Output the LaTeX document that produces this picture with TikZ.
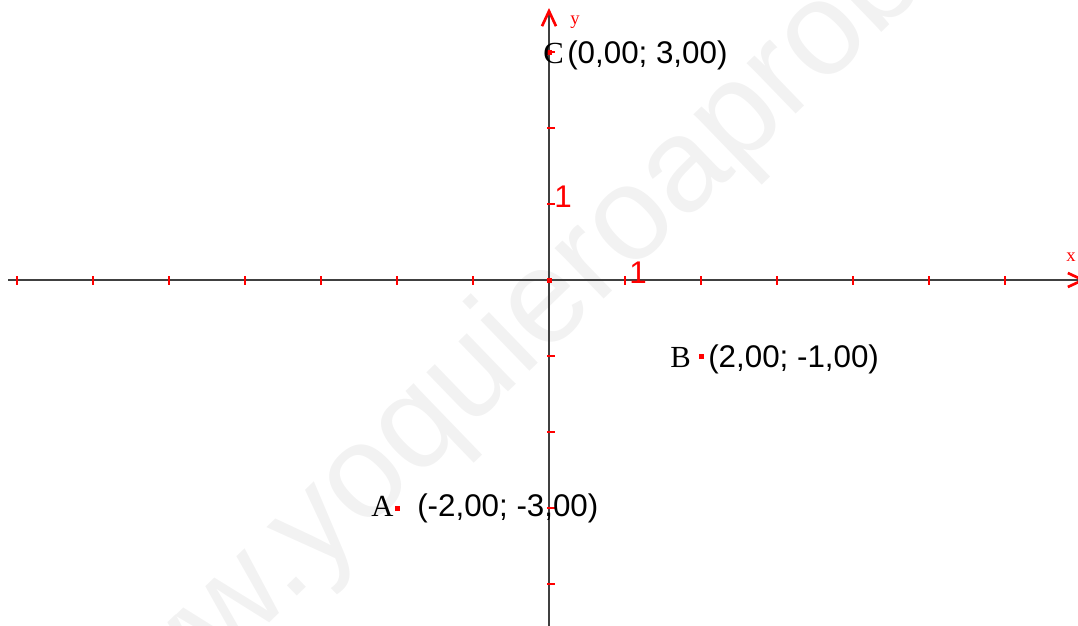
\documentclass[tikz,border=0pt]{standalone}
\usepackage{fontspec}
\setmainfont{Liberation Serif}
\setsansfont{Liberation Sans}
\usetikzlibrary{arrows.meta}
\definecolor{axisgray}{HTML}{404040}
\definecolor{wmgray}{HTML}{F2F2F2}
\begin{document}
\begin{tikzpicture}[x=0.75pt,y=0.75pt,
  axis/.style={draw=axisgray,line width=1.6pt},
  tickmark/.style={draw=red,line width=1.6pt},
  pt/.style={fill=red,minimum size=3.75pt,inner sep=0pt,outer sep=0pt},
  coordlbl/.style={font=\sffamily\fontsize{23.5}{23.5}\selectfont,inner sep=0pt,anchor=base west},
  ptname/.style={font=\rmfamily\fontsize{23}{23}\selectfont,inner sep=0pt,anchor=base west},
  unitlbl/.style={coordlbl,text=red},
  axlbl/.style={font=\rmfamily\fontsize{14}{14}\selectfont,text=red,inner sep=0pt},
  wm/.style={font=\sffamily\fontsize{100}{100}\selectfont,text=wmgray,inner sep=0pt,anchor=base west,rotate=44}]
\useasboundingbox (0,0) rectangle (1078,-625);
% watermark
\node[wm] (wmark) at (86,-800) {www.yoquieroaprobar.es};
% axes
\coordinate (xs) at (8,-280);
\coordinate (xe) at (1086,-280);
\coordinate (ys) at (549,-626);
\coordinate (ye) at (549,-8);
\draw[axis,-{Straight Barb[red,length=11.25pt,width=10.5pt,line width=2pt]}] (xs) -- (xe);
\draw[axis,-{Straight Barb[red,length=11.25pt,width=10.5pt,line width=2pt]}] (ys) -- (ye);
% ticks
\foreach \i in {-7,...,-1,1,2,...,6}
  \draw[tickmark] (549+76*\i,-276) -- (549+76*\i,-285);
\foreach \j in {-4,...,-1,1,2,3}
  \draw[tickmark] (547,-280+76*\j) -- (555,-280+76*\j);
% axis labels
\node[axlbl] (xlab) at (1071,-257) {x};
\node[axlbl] (ylab) at (575,-22) {y};
\node[unitlbl] (one x) at (629,-283) {1};
\node[unitlbl] (one y) at (554,-207) {1};
% points
\node[pt] (O) at (549,-280) {};
\node[pt] (A) at (397,-508) {};
\node[pt] (B) at (701,-356) {};
\node[pt] (C) at (549,-52) {};
% point names and coordinates
\node[ptname] (Aname) at (371,-516) {A};
\node[coordlbl] (Acoord) at (417,-516) {(-2,00; -3,00)};
\node[ptname] (Bname) at (670,-367) {B};
\node[coordlbl] (Bcoord) at (708,-367) {(2,00; -1,00)};
\node[ptname] (Cname) at (543,-63) {C};
\node[coordlbl] (Ccoord) at (567,-63) {(0,00; 3,00)};
\end{tikzpicture}
\end{document}
